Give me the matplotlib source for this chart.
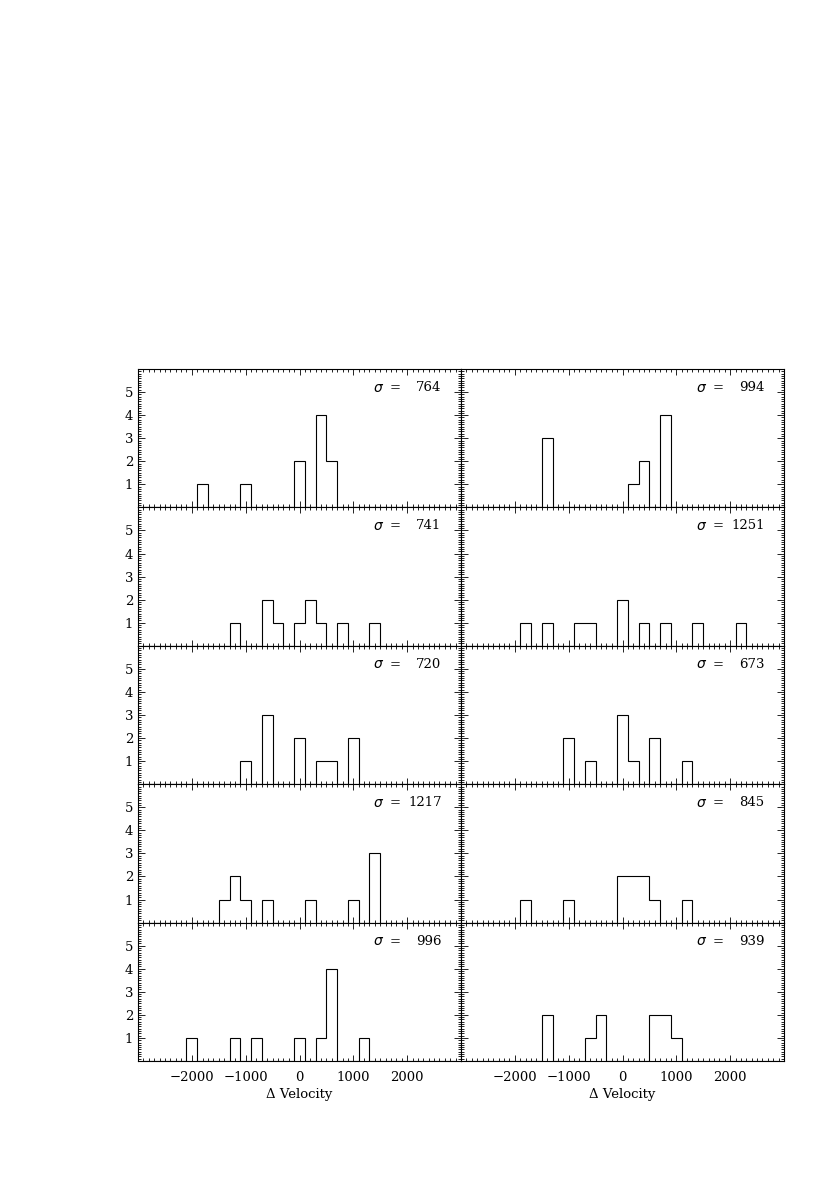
import numpy as np
import matplotlib
matplotlib.use("Agg")
import matplotlib.pyplot as plt
from matplotlib.ticker import MultipleLocator

# Bin centres (km/s) and counts for each panel, left column then right column, top to bottom
bin_width = 200
sigmas = [764, 994, 741, 1251, 720, 673, 1217, 845, 996, 939]
centers = [
    [-1800, -1000, 0, 400, 600],
    [-1400, 200, 400, 800],
    [-1200, -600, -400, 0, 200, 400, 800, 1400],
    [-1800, -1400, -800, -600, 0, 400, 800, 1400, 2200],
    [-1000, -600, 0, 400, 600, 1000],
    [-1000, -600, 0, 200, 600, 1200],
    [-1400, -1200, -1000, -600, 200, 1000, 1400],
    [-1800, -1000, 0, 200, 400, 600, 1200],
    [-2000, -1200, -800, 0, 400, 600, 1200],
    [-1400, -600, -400, 600, 800, 1000],
]
counts = [
    [1, 1, 2, 4, 2],
    [3, 1, 2, 4],
    [1, 2, 1, 1, 2, 1, 1, 1],
    [1, 1, 1, 1, 2, 1, 1, 1, 1],
    [1, 3, 2, 1, 1, 2],
    [2, 1, 3, 1, 2, 1],
    [1, 2, 1, 1, 1, 1, 3],
    [1, 1, 2, 2, 2, 1, 1],
    [1, 1, 1, 1, 1, 4, 1],
    [2, 1, 2, 2, 2, 1],
]
xticks = [-2000, -1000, 0, 1000, 2000]
xticklabels = ["\u22122000", "\u22121000", "0", "1000", "2000"]
yticks = [1, 2, 3, 4, 5]
xlabel = "Δ Velocity"

fig = plt.figure(figsize=(8.3, 12), dpi=100)
fig.subplots_adjust(left=138/830, right=784/830, top=1-369/1200, bottom=1-1061/1200,
                    wspace=0, hspace=0)
axes = fig.subplots(5, 2, sharex=True, sharey=True)

fontfam = "DejaVu Serif"
edges = np.arange(-2900, 2901, bin_width)
for i, ax in enumerate(axes.flat):
    row, col = divmod(i, 2)
    vals = np.zeros(len(edges) - 1)
    for xc, h in zip(centers[i], counts[i]):
        k = int(np.searchsorted(edges, xc) - 1)
        vals[k] = h
    ax.stairs(vals, edges, baseline=0, fill=False, color="black", lw=0.8)
    ax.set_xlim(-3000, 3000)
    ax.set_ylim(0, 6)
    ax.set_xticks(xticks)
    ax.set_yticks(yticks)
    ax.xaxis.set_minor_locator(MultipleLocator(100))
    ax.yaxis.set_minor_locator(MultipleLocator(0.1))
    ax.tick_params(which="both", direction="in", top=True, right=True,
                   width=0.6, colors="black")
    ax.tick_params(which="major", length=5)
    ax.tick_params(which="minor", length=2.5)
    ax.tick_params(axis="x", which="major", length=4, pad=7)
    for sp in ax.spines.values():
        sp.set_linewidth(0.8)
    if col == 0:
        ax.set_yticklabels([str(v) for v in yticks], family=fontfam, fontsize=9.5)
    else:
        ax.tick_params(labelleft=False)
    if row == 4:
        ax.set_xticklabels(xticklabels, family=fontfam, fontsize=9.5)
        ax.set_xlabel(xlabel, family=fontfam, fontsize=9.5, labelpad=3)
    ax.text(0.728, 0.866, r"$\sigma$", transform=ax.transAxes, fontsize=10,
            ha="left", va="center", family=fontfam)
    ax.text(0.78, 0.866, "=", transform=ax.transAxes, fontsize=9.5,
            ha="left", va="center", family=fontfam)
    ax.text(0.94, 0.866, str(sigmas[i]), transform=ax.transAxes, fontsize=9.5,
            ha="right", va="center", family=fontfam)

fig.savefig("out.png", dpi=100)
